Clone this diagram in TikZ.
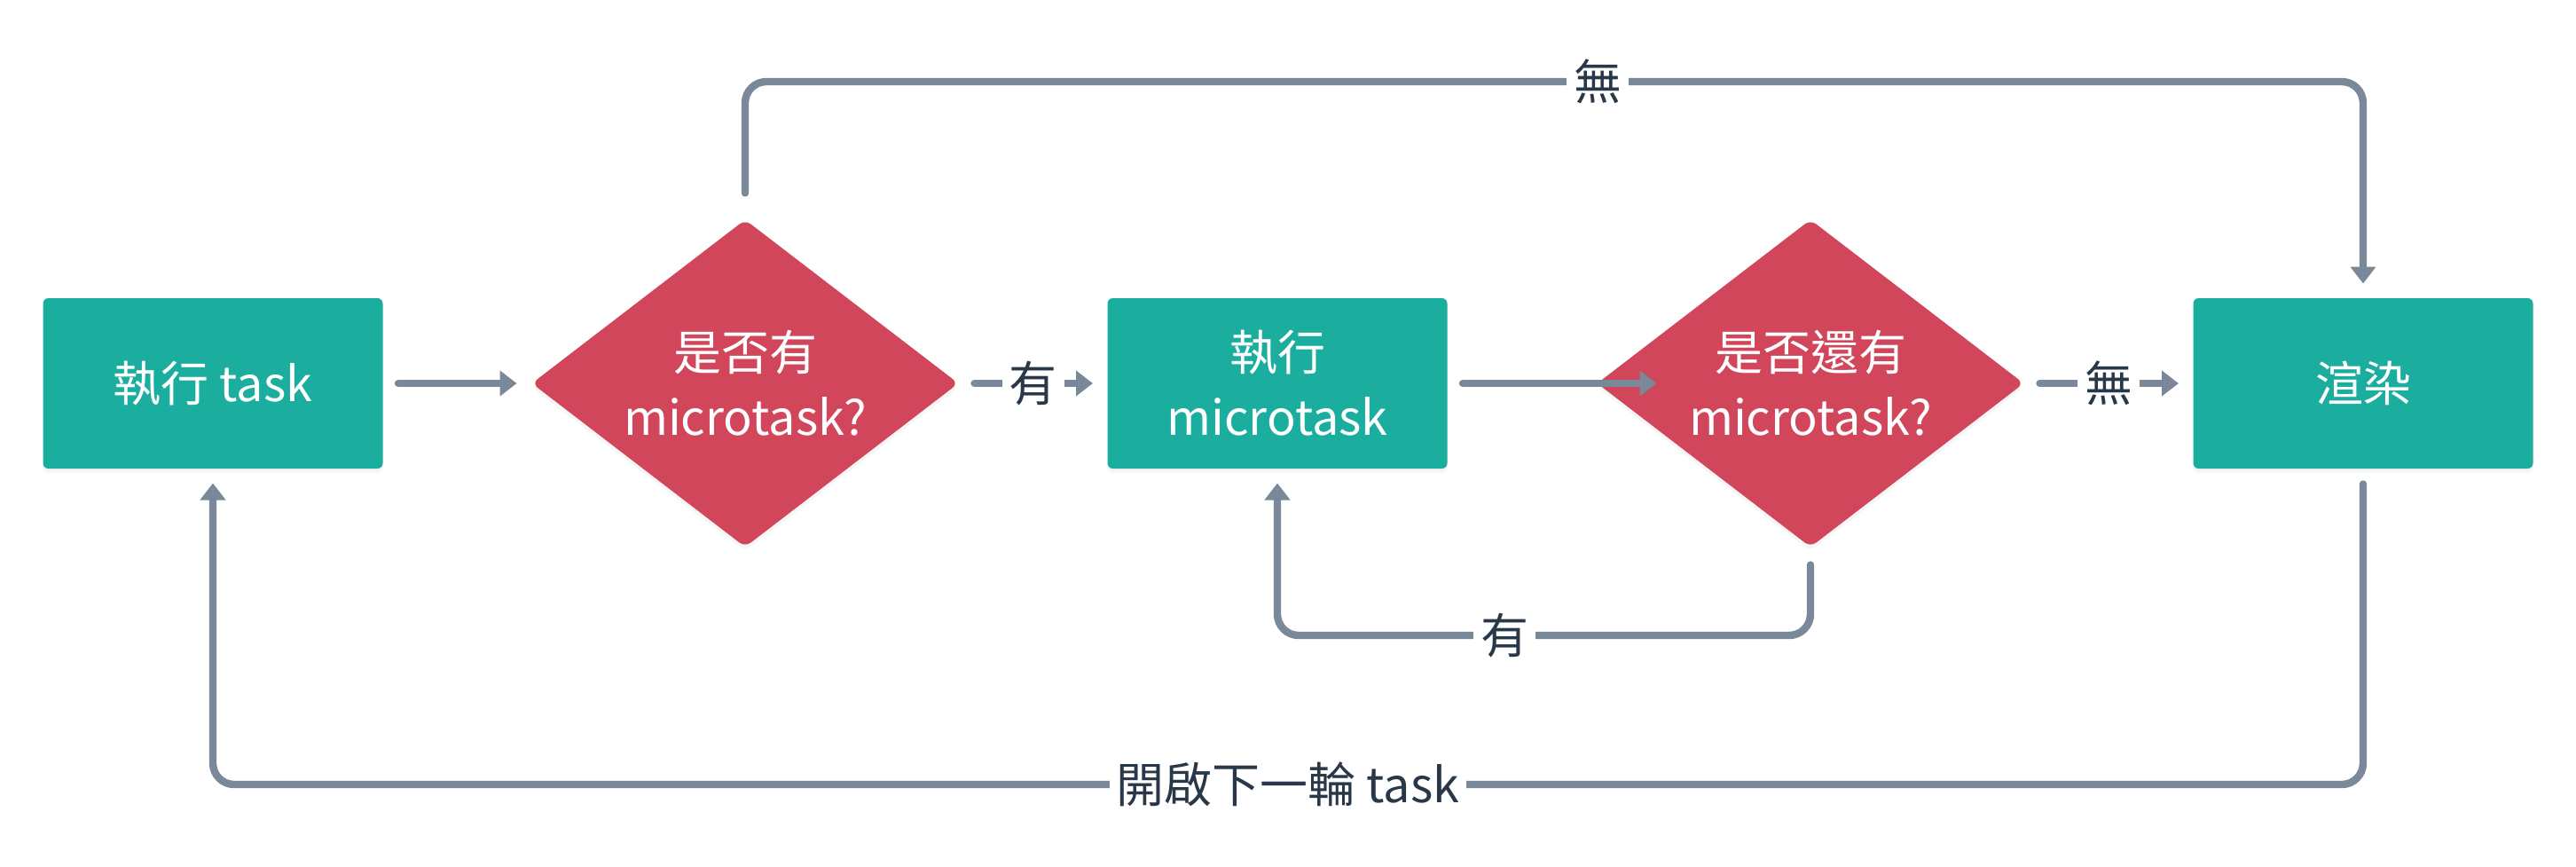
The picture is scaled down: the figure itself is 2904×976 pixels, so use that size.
\documentclass[tikz,border=0pt]{standalone}
\usepackage{fontspec}
\setmainfont{Noto Sans CJK TC}
\usetikzlibrary{shapes.geometric,arrows.meta,shadows}

\definecolor{taskgreen}{RGB}{27,174,159}
\definecolor{askred}{RGB}{210,70,92}
\definecolor{linegray}{RGB}{122,137,153}
\definecolor{labeldark}{RGB}{41,56,72}

\tikzset{every picture/.style={line width=0.75pt}}
\tikzset{
  every node/.style={font=\fontsize{13.5}{18.25}\selectfont},
  taskbox/.style={rectangle, rounded corners=1.5pt, fill=taskgreen, text=white, align=center,
    minimum width=95.75pt, minimum height=48pt, inner sep=0pt,
    drop shadow={opacity=0.07, shadow xshift=0pt, shadow yshift=-1.2pt}},
  askbox/.style={diamond, aspect=1.3, rounded corners=2pt, fill=askred, text=white, align=center,
    minimum width=120.5pt, minimum height=92.5pt, inner sep=0pt,
    drop shadow={opacity=0.07, shadow xshift=0pt, shadow yshift=-1.2pt}},
  conn/.style={draw=linegray, line width=2.1pt, line cap=round, rounded corners=6pt,
    shorten <=4pt, shorten >=3.75pt, -{Triangle[length=4.75pt,width=7pt]}},
  lbl/.style={fill=white, text=labeldark, inner sep=2pt, rounded corners=0pt}
}

\begin{document}
\begin{tikzpicture}[x=0.25pt,y=0.25pt,yscale=-1,xscale=1]
\useasboundingbox (0,0) rectangle (2904,976);

%Shape: Rectangle [run task]
\node [taskbox] (runtask) at (240,432) {執行 task};
%Shape: Diamond [has micro]
\node [askbox] (hasmicro) at (840,432) {是否有\\microtask?};
%Shape: Rectangle [run micro]
\node [taskbox] (runmicro) at (1440,432) {執行\\microtask};
%Shape: Diamond [more micro]
\node [askbox] (moremicro) at (2041,432) {是否還有\\microtask?};
%Shape: Rectangle [render]
\node [taskbox] (render) at (2664,432) {渲染};

% bend points
\coordinate (topL) at (840,92);
\coordinate (topR) at (2664,92);
\coordinate (loopR) at (2041,716);
\coordinate (loopL) at (1440,716);
\coordinate (botR) at (2664,884);
\coordinate (botL) at (240,884);

%Straight Lines
\draw [conn] (runtask) -- (hasmicro);
\draw [conn] (hasmicro) -- node [lbl] {有} (runmicro);
\draw [conn, shorten >=0pt] (runmicro) -- ([xshift=17.25pt]moremicro.west);
\draw [conn] (moremicro) -- node [lbl] {無} (render);

%Bent Lines
\draw [conn, shorten <=7pt] (hasmicro) -- (topL) -- node [lbl, pos=0.527] {無} (topR) -- (render);
\draw [conn, shorten <=4.5pt] (moremicro) -- (loopR) -- node [lbl, pos=0.574] {有} (loopL) -- (runmicro);
\draw [conn] (render) -- (botR) -- node [lbl, pos=0.5] {開啟下一輪 task} (botL) -- (runtask);

\end{tikzpicture}
\end{document}
